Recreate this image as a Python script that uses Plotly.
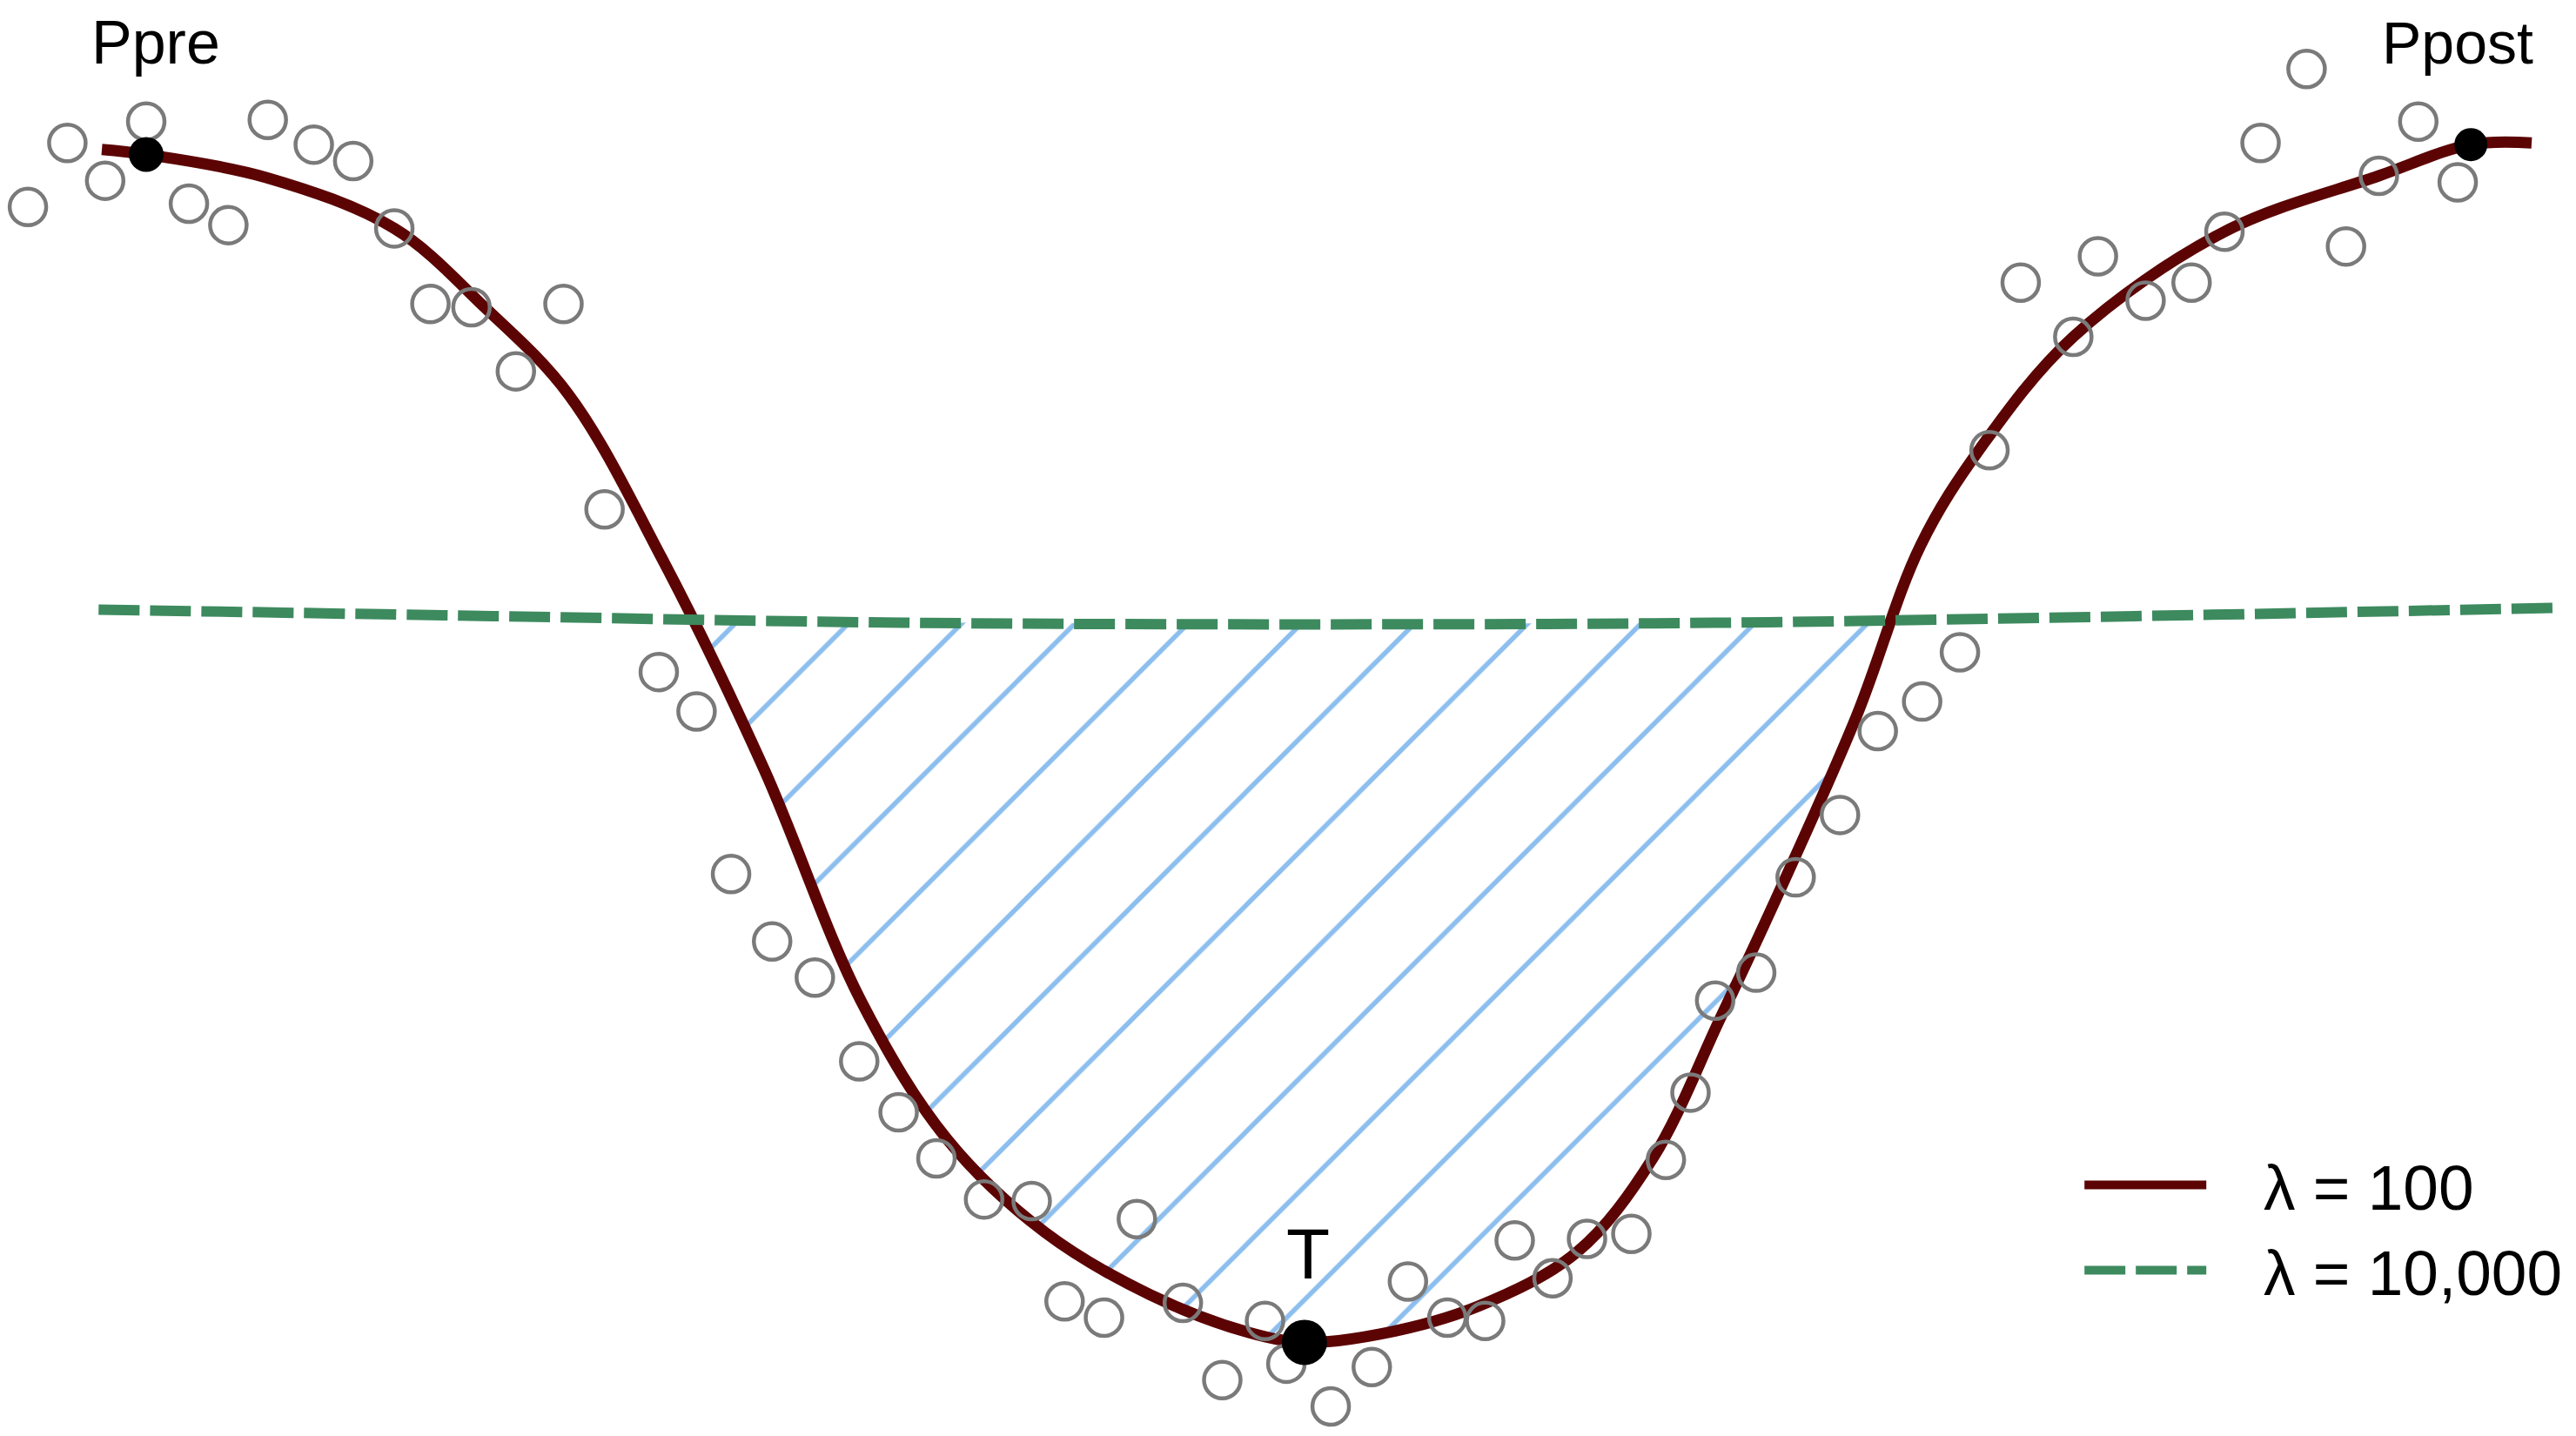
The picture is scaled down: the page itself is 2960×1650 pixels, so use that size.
import numpy as np
import plotly.graph_objects as go

# ---- data (time index, level) ----
obs_t = [17, 41, 64, 89, 115, 139, 163, 191, 215, 240, 262, 287, 314, 343, 368,
         401, 424, 445, 470, 496, 523, 547, 570, 599, 628, 648, 672, 692, 720, 744,
         770, 783, 810, 835, 857, 881, 904, 922, 945, 966, 993, 1014, 1029, 1044,
         1069, 1093, 1120, 1143, 1170, 1193, 1211, 1230, 1262, 1277, 1306, 1334,
         1354, 1376, 1404, 1428, 1448, 1472, 1496]
obs_y = [748, 787, 764, 800, 750, 737, 801, 786, 776, 735, 689, 687, 648, 689, 564,
         465, 441, 342, 301, 279, 228, 197, 169, 144, 143, 82, 72, 132, 81, 34,
         70, 44, 18, 42, 94, 72, 70, 119, 96, 120, 123, 168, 209, 265,
         282, 340, 378, 429, 447, 477, 600, 702, 669, 718, 691, 702,
         733, 787, 832, 724, 767, 800, 763]

trend100_t = [62, 89, 162, 240, 295, 346, 403, 465, 524, 577, 636, 700, 760, 794,
              840, 900, 960, 1006, 1047, 1082, 1130, 1169, 1206, 1262, 1354, 1448,
              1504, 1541]
trend100_y = [783, 780, 766, 735, 687, 634, 534, 406, 265, 180, 124, 86, 63, 57,
              62, 79, 112, 169, 254, 329, 438, 542, 602, 669, 733, 767,
              786, 787]

trend10k_t = [60, 300, 550, 800, 1050, 1300, 1555]
trend10k_y = [503, 499, 495, 494, 495, 499, 504]

key_names = ["Ppre", "T", "Ppost"]
key_t = [89, 794, 1504]
key_y = [780, 57, 786]

legend_labels = ["λ = 100", "λ = 10,000"]

# ---- hatched area: where the λ=100 trend lies below the λ=10,000 trend ----
c_t = np.array(trend100_t, float)
c_y = np.array(trend100_y, float)
tr_at_c = np.interp(c_t, trend10k_t, trend10k_y)
diff = c_y - tr_at_c
below = np.where(diff < 0)[0]
i0, i1 = below[0], below[-1]
fl = diff[i0 - 1] / (diff[i0 - 1] - diff[i0])
xl = c_t[i0 - 1] + fl * (c_t[i0] - c_t[i0 - 1])
fr = diff[i1] / (diff[i1] - diff[i1 + 1])
xr = c_t[i1] + fr * (c_t[i1 + 1] - c_t[i1])
poly_x = [xl] + list(c_t[i0:i1 + 1]) + [xr]
poly_y = [float(np.interp(xl, trend10k_t, trend10k_y))] + list(c_y[i0:i1 + 1]) + \
         [float(np.interp(xr, trend10k_t, trend10k_y))]
back_x = np.linspace(xr, xl, 40)
back_y = np.interp(back_x, trend10k_t, trend10k_y)
poly_x += list(back_x)
poly_y += list(back_y)

FONT = "Liberation Sans, Arial, sans-serif"
PAD = "\u00a0" * 3

fig = go.Figure()

fig.add_trace(go.Scatter(
    x=poly_x, y=poly_y, mode="lines", fill="toself",
    line=dict(width=0, color="rgba(0,0,0,0)"),
    fillcolor="rgba(0,0,0,0)",
    fillpattern=dict(shape="/", size=92, solidity=0.06, fgopacity=1,
                     fgcolor="#8cbeee", bgcolor="rgba(0,0,0,0)"),
    showlegend=False, hoverinfo="skip"))

fig.add_trace(go.Scatter(
    x=trend100_t, y=trend100_y, mode="lines", name=PAD + legend_labels[0],
    line=dict(color="#5c0404", width=13, shape="spline", smoothing=1.0)))

fig.add_trace(go.Scatter(
    x=trend10k_t, y=trend10k_y, mode="lines", name=PAD + legend_labels[1],
    line=dict(color="#3d8a5f", width=12, dash="47px,12px", shape="spline")))

fig.add_trace(go.Scatter(
    x=obs_t, y=obs_y, mode="markers", showlegend=False,
    marker=dict(symbol="circle-open", size=42, color="#7a7a7a", opacity=1,
                line=dict(width=4.5, color="#7a7a7a"))))

fig.add_trace(go.Scatter(
    x=key_t, y=key_y, mode="markers", showlegend=False,
    marker=dict(symbol="circle", size=[40, 52, 38], color="black", opacity=1,
                line=dict(width=0))))

label_pos = {"Ppre": (95, 848, 70), "T": (796, 111, 82), "Ppost": (1496, 848, 68)}
for name in key_names:
    lx, ly, fs = label_pos[name]
    fig.add_annotation(x=lx, y=ly, text=name, showarrow=False,
                       font=dict(family=FONT, size=fs, color="black"),
                       xanchor="center", yanchor="middle")

fig.update_layout(
    width=2960, height=1650,
    margin=dict(l=0, r=0, t=0, b=0),
    paper_bgcolor="white", plot_bgcolor="white",
    xaxis=dict(range=[0, 1568], visible=False, fixedrange=True),
    yaxis=dict(range=[0, 874], visible=False, fixedrange=True),
    showlegend=True,
    legend=dict(x=0.8075, y=0.2075, xanchor="left", yanchor="top",
                bgcolor="rgba(0,0,0,0)", itemwidth=140,
                font=dict(family=FONT, size=73, color="black"),
                tracegroupgap=0),
)

fig.write_html("out.html", config={"displayModeBar": False},
               post_script="document.body.style.margin='0';document.body.style.overflow='hidden';")
